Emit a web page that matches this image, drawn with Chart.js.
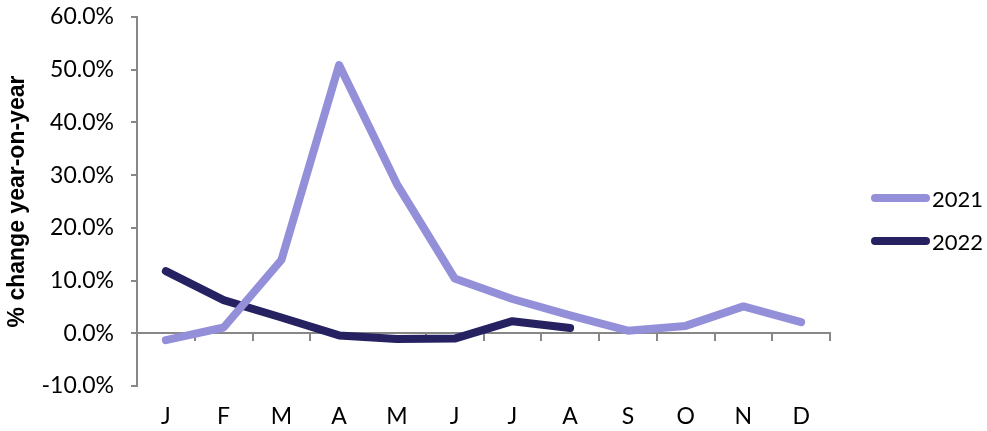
<!DOCTYPE html>
<html>
<head>
<meta charset="utf-8">
<script src="https://cdn.jsdelivr.net/npm/chart.js@4"></script>
<style>
  html, body { margin: 0; padding: 0; background: #fff; }
  #wrap { position: relative; width: 987px; height: 431px; }
  #legend { position: absolute; left: 871px; top: 185px; font: 22px Lato, sans-serif; color: #000; }
  .item { display: flex; align-items: center; height: 26px; margin-bottom: 17px; }
  .swatch { width: 59px; height: 8px; border-radius: 4px; margin-right: 2px; }
</style>
</head>
<body>
<div id="wrap">
  <canvas id="chart" width="987" height="431"></canvas>
  <div id="legend"></div>
</div>
<script>
const months = ["J", "F", "M", "A", "M", "J", "J", "A", "S", "O", "N", "D"];
const values2021 = [-1.3, 1.1, 13.9, 50.9, 28.3, 10.4, 6.5, 3.4, 0.5, 1.4, 5.1, 2.1];
const values2022 = [11.8, 6.3, 3.0, -0.4, -1.1, -1.0, 2.3, 1.0];

const axisGrey = "#878787";
const tickFont = { family: "Lato", size: 23 };

const datasets = [
  { label: "2021", data: values2021, borderColor: "#948fd9" },
  { label: "2022", data: values2022, borderColor: "#262262" }
].map(d => ({
  ...d,
  backgroundColor: d.borderColor,
  borderWidth: 8,
  pointRadius: 0,
  tension: 0,
  fill: false,
  borderCapStyle: "round",
  borderJoinStyle: "round"
}));

new Chart(document.getElementById("chart"), {
  type: "line",
  data: { labels: months, datasets: datasets },
  options: {
    responsive: false,
    animation: false,
    layout: { padding: { top: 17, right: 157, bottom: 45, left: 0 } },
    plugins: { legend: { display: false }, tooltip: { enabled: false } },
    scales: {
      x: {
        position: { y: 0 },
        offset: true,
        grid: { offset: true, drawOnChartArea: false, drawTicks: true, tickLength: 7, color: axisGrey, lineWidth: 2 },
        border: { color: axisGrey, width: 2 },
        ticks: { color: "#000", font: tickFont, padding: 62, maxRotation: 0 }
      },
      y: {
        min: -10,
        max: 60,
        ticks: {
          stepSize: 10,
          color: "#000",
          font: tickFont,
          padding: 17,
          callback: v => v.toFixed(1) + "%"
        },
        grid: { drawOnChartArea: false, drawTicks: true, tickLength: 6, color: axisGrey, lineWidth: 2 },
        border: { color: axisGrey, width: 2 },
        title: {
          display: true,
          text: "% change year-on-year",
          color: "#000",
          font: { family: "Liberation Sans", size: 23, weight: "bold" },
          padding: { top: 4, bottom: 0 }
        },
        afterFit: s => {
          s.width = 137;
          s.paddingTop = 0;
          s.paddingBottom = 0;
        }
      }
    }
  }
});

// legend built from the datasets
const legend = document.getElementById("legend");
datasets.forEach(d => {
  const row = document.createElement("div");
  row.className = "item";
  const sw = document.createElement("span");
  sw.className = "swatch";
  sw.style.background = d.borderColor;
  const txt = document.createElement("span");
  txt.textContent = d.label;
  row.appendChild(sw);
  row.appendChild(txt);
  legend.appendChild(row);
});
</script>
</body>
</html>
